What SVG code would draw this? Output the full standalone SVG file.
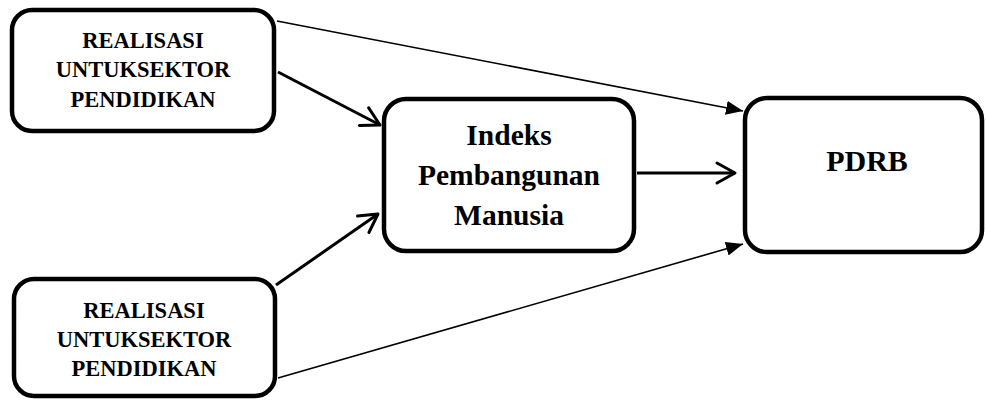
<svg xmlns="http://www.w3.org/2000/svg" width="986" height="402" viewBox="0 0 986 402">
<style>
.box{fill:#fff;stroke:#000;stroke-width:4.5}
.t{font-family:"Liberation Serif","Times New Roman",serif;font-weight:bold;fill:#000;text-anchor:middle}
.s{font-size:22.5px}
.m{font-size:29.5px}
.l{font-size:30px}
.thick{stroke:#000;stroke-width:3;fill:none}
.thin{stroke:#000;stroke-width:1.6;fill:none}
</style>
<defs>
<marker id="open" markerUnits="userSpaceOnUse" viewBox="-3 -3 26 26" markerWidth="26" markerHeight="26" refX="18" refY="10" orient="auto">
<path d="M0,0 L18,10 L0,20" fill="none" stroke="#000" stroke-width="3" stroke-linecap="round" stroke-linejoin="round"/>
</marker>
<marker id="fill" markerUnits="userSpaceOnUse" viewBox="0 0 18 14" markerWidth="18" markerHeight="14" refX="17" refY="7" orient="auto">
<path d="M0,0 L17,7 L0,14 z" fill="#000"/>
</marker>
</defs>
<g id="connectors">
<line class="thin" x1="277" y1="21" x2="743" y2="111" marker-end="url(#fill)"/>
<line class="thick" x1="278" y1="72" x2="380" y2="125" marker-end="url(#open)"/>
<line class="thick" x1="276" y1="285" x2="378" y2="214" marker-end="url(#open)"/>
<line class="thin" x1="278" y1="378" x2="743" y2="244" marker-end="url(#fill)"/>
<line class="thick" x1="637" y1="173" x2="735" y2="173" marker-end="url(#open)"/>
</g>
<g id="realisasi1">
<rect class="box" x="12" y="10" width="262" height="121" rx="20"/>
<text class="t s" x="143" y="48">REALISASI</text>
<text class="t s" x="143" y="77">UNTUKSEKTOR</text>
<text class="t s" x="143" y="107">PENDIDIKAN</text>
</g>
<g id="realisasi2">
<rect class="box" x="14" y="279" width="261" height="117" rx="20"/>
<text class="t s" x="144" y="318">REALISASI</text>
<text class="t s" x="144" y="347">UNTUKSEKTOR</text>
<text class="t s" x="144" y="376">PENDIDIKAN</text>
</g>
<g id="ipm">
<rect class="box" x="384" y="99" width="250" height="152" rx="22"/>
<text class="t m" x="509" y="145">Indeks</text>
<text class="t m" x="509" y="185">Pembangunan</text>
<text class="t m" x="509" y="225">Manusia</text>
</g>
<g id="pdrb">
<rect class="box" x="745" y="98" width="237" height="154" rx="22"/>
<text class="t l" x="867" y="171">PDRB</text>
</g>
</svg>
